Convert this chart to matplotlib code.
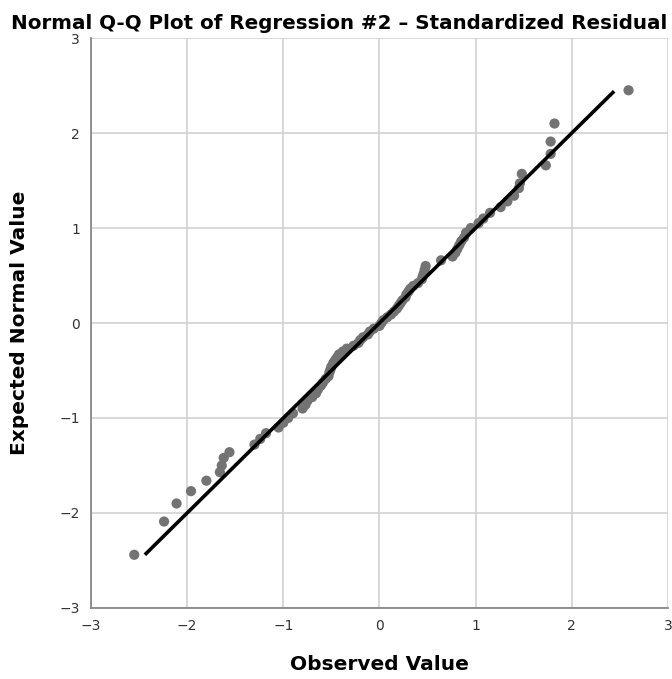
import matplotlib.pyplot as plt
import numpy as np

# --- Data ---
# observed standardized residuals (x) and expected normal values (y)
observed = [-2.55, -2.24, -2.11, -1.96, -1.80, -1.66, -1.64, -1.62, -1.56,
            -1.30, -1.24, -1.18, -1.05, -1.00, -0.95, -0.90, -0.80, -0.77,
            -0.75, -0.70, -0.66, -0.64, -0.61, -0.59, -0.56, -0.53, -0.52,
            -0.51, -0.50, -0.48, -0.46, -0.44, -0.42, -0.38, -0.34, -0.27,
            -0.22, -0.20, -0.17, -0.12, -0.10, -0.06, 0.00, 0.02,
            0.04, 0.08, 0.12, 0.15, 0.18, 0.20, 0.22, 0.24, 0.27, 0.28,
            0.30, 0.32, 0.35, 0.40, 0.44, 0.45, 0.46, 0.47, 0.48, 0.64,
            0.76, 0.79, 0.81, 0.83, 0.85, 0.88, 0.90, 0.95, 1.03, 1.08,
            1.15, 1.26, 1.33, 1.40, 1.45, 1.46, 1.48, 1.73, 1.78, 1.78,
            1.82, 2.59]
expected = [-2.44, -2.09, -1.90, -1.77, -1.66, -1.57, -1.50, -1.42, -1.36,
            -1.28, -1.22, -1.16, -1.10, -1.05, -1.00, -0.95, -0.90, -0.86,
            -0.82, -0.78, -0.74, -0.70, -0.66, -0.63, -0.59, -0.56, -0.52,
            -0.49, -0.46, -0.42, -0.39, -0.36, -0.33, -0.30, -0.27, -0.24,
            -0.21, -0.18, -0.15, -0.12, -0.09, -0.06, -0.03, 0.00,
            0.03, 0.06, 0.09, 0.12, 0.15, 0.18, 0.21, 0.24, 0.27, 0.30,
            0.33, 0.36, 0.39, 0.42, 0.46, 0.49, 0.52, 0.56, 0.60, 0.66,
            0.70, 0.74, 0.78, 0.82, 0.86, 0.90, 0.95, 1.00, 1.05, 1.10,
            1.16, 1.22, 1.28, 1.34, 1.42, 1.47, 1.57, 1.66, 1.78, 1.91,
            2.10, 2.45]
ref_line = [-2.44, 2.44]

ticks = [-3, -2, -1, 0, 1, 2, 3]
tick_labels = ['\u22123', '\u22122', '\u22121', '0', '1', '2', '3']

plt.rcParams['font.family'] = ['DejaVu Sans']

fig = plt.figure(figsize=(6.72, 6.79), dpi=100)
ax = fig.add_axes([0.1354, 0.1046, 0.8586, 0.8394])

ax.scatter(observed, expected, s=54, color='#737373', edgecolors='none', zorder=3)
ax.plot(ref_line, ref_line, color='black', linewidth=2.6, solid_capstyle='butt', zorder=4)

ax.set_xlim(-3, 3)
ax.set_ylim(-3, 3)
ax.set_xticks(ticks)
ax.set_yticks(ticks)
ax.set_xticklabels(tick_labels)
ax.set_yticklabels(tick_labels)
ax.tick_params(length=0, labelsize=10, colors='#333333', pad=8)

ax.grid(True, color='#d2d2d2', linewidth=1.2, zorder=0)
ax.set_axisbelow(True)
for side in ['top', 'right']:
    ax.spines[side].set_visible(False)
for side in ['left', 'bottom']:
    ax.spines[side].set_color('#888888')
    ax.spines[side].set_linewidth(1.3)

ax.set_xlabel('Observed Value', fontsize=14.5, fontweight='bold', labelpad=16)
ax.set_ylabel('Expected Normal Value', fontsize=14.5, fontweight='bold', labelpad=22)
fig.text(0.504, 0.966, 'Normal Q-Q Plot of Regression #2 \u2013 Standardized Residual',
         ha='center', va='center', fontsize=14.3, fontweight='bold')

fig.savefig('out.png', dpi=100)
